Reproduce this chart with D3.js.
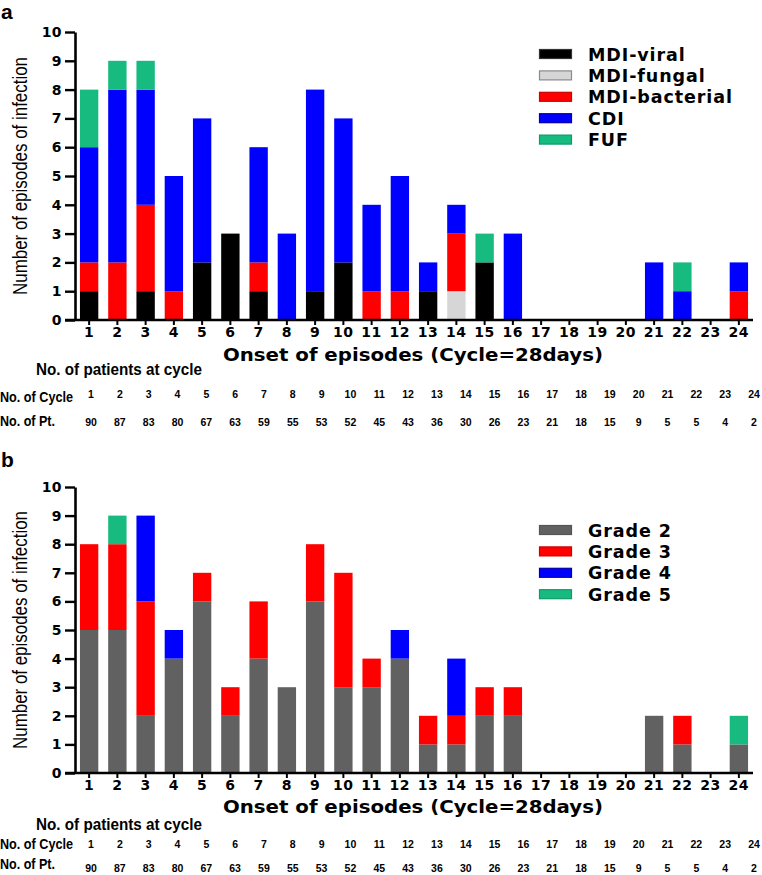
<!DOCTYPE html>
<html>
<head>
<meta charset="utf-8">
<script src="https://cdn.jsdelivr.net/npm/d3@7"></script>
<style>
  html, body { margin: 0; padding: 0; background: #fff; }
  svg { display: block; }
</style>
</head>
<body>
<svg id="chart" width="762" height="875"></svg>
<script>
// ---------- DATA ----------
const categories = ["1","2","3","4","5","6","7","8","9","10","11","12","13","14","15","16","17","18","19","20","21","22","23","24"];
const yTicks = [0,1,2,3,4,5,6,7,8,9,10];

// Panel a: by infection type
const mdiViral     = [1,0,1,0,2,3,1,0,1,2,0,0,1,0,2,0,0,0,0,0,0,0,0,0];
const mdiFungal    = [0,0,0,0,0,0,0,0,0,0,0,0,0,1,0,0,0,0,0,0,0,0,0,0];
const mdiBacterial = [1,2,3,1,0,0,1,0,0,0,1,1,0,2,0,0,0,0,0,0,0,0,0,1];
const cdi          = [4,6,4,4,5,0,4,3,7,5,3,4,1,1,0,3,0,0,0,0,2,1,0,1];
const fuf          = [2,1,1,0,0,0,0,0,0,0,0,0,0,0,1,0,0,0,0,0,0,1,0,0];
const seriesA = ["MDI-viral","MDI-fungal","MDI-bacterial","CDI","FUF"];

// Panel b: by grade
const grade2 = [5,5,2,4,6,2,4,3,6,3,3,4,1,1,2,2,0,0,0,0,2,1,0,1];
const grade3 = [3,3,4,0,1,1,2,0,2,4,1,0,1,1,1,1,0,0,0,0,0,1,0,0];
const grade4 = [0,0,3,1,0,0,0,0,0,0,0,1,0,2,0,0,0,0,0,0,0,0,0,0];
const grade5 = [0,1,0,0,0,0,0,0,0,0,0,0,0,0,0,0,0,0,0,0,0,0,0,1];
const seriesB = ["Grade 2","Grade 3","Grade 4","Grade 5"];

// Patients at each cycle
const patients = [90,87,83,80,67,63,59,55,53,52,45,43,36,30,26,23,21,18,15,9,5,5,4,2];

// ---------- STYLE ----------
const colorsA = ["#000000","#d6d6d6","#ff0000","#0000ff","#17bb80"];
const strokesA = ["#333333","#8a8a8a","#cc0000","#0000aa","#0f9a68"];
const colorsB = ["#616161","#ff0000","#0000ff","#17bb80"];
const strokesB = ["#555555","#cc0000","#0000aa","#0f9a68"];

const svg = d3.select("#chart");
const wideFont = "'DejaVu Sans', sans-serif";
const narrowFont = "'Liberation Sans Narrow', 'Liberation Sans', Arial, sans-serif";

function panel(opts) {
  const { letter, letterY, yTop, yBottom, series, values, colors, strokes, legendY, tableY } = opts;
  const g = svg.append("g");

  const x = d3.scaleBand().domain(categories).range([75, 753]).paddingInner(0.35).paddingOuter(0.175);
  const y = d3.scaleLinear().domain([0, 10]).range([yBottom, yTop]);

  // build stacked data
  const rows = categories.map((c, i) => {
    const r = { cat: c };
    series.forEach((s, k) => r[s] = values[k][i]);
    return r;
  });
  const stack = d3.stack().keys(series)(rows);

  g.selectAll("g.layer").data(stack).join("g")
    .attr("class", "layer")
    .attr("fill", (d, k) => colors[k])
    .selectAll("rect").data(d => d.filter(v => v[1] - v[0] > 0)).join("rect")
    .attr("x", d => x(d.data.cat))
    .attr("width", x.bandwidth())
    .attr("y", d => y(d[1]))
    .attr("height", d => y(d[0]) - y(d[1]));

  // y axis
  const yAxis = g.append("g").attr("transform", "translate(75,0)")
    .call(d3.axisLeft(y).tickValues(yTicks).tickFormat(d3.format("d")).tickSize(10).tickSizeOuter(0).tickPadding(3));
  yAxis.select(".domain").attr("stroke", "#000").attr("stroke-width", 2.6);
  yAxis.selectAll(".tick line").attr("stroke", "#000").attr("stroke-width", 2.4);
  yAxis.selectAll(".tick text")
    .attr("font-family", wideFont).attr("font-weight", "bold").attr("font-size", 14)
    .attr("letter-spacing", 0.4).attr("fill", "#000");

  // x axis
  const xAxis = g.append("g").attr("transform", `translate(0,${yBottom})`)
    .call(d3.axisBottom(x).tickSize(5).tickSizeOuter(0).tickPadding(3));
  xAxis.select(".domain").attr("stroke", "#000").attr("stroke-width", 2.6)
    .attr("d", `M65,0H753`);
  xAxis.selectAll(".tick line").attr("stroke", "#000").attr("stroke-width", 2);
  xAxis.selectAll(".tick text")
    .attr("font-family", wideFont).attr("font-weight", "bold").attr("font-size", 14)
    .attr("letter-spacing", 0.6).attr("fill", "#000").attr("dy", "0.65em");

  // panel letter
  g.append("text").attr("x", 1).attr("y", letterY)
    .attr("font-family", "'Liberation Sans', Arial, sans-serif").attr("font-weight", "bold")
    .attr("font-size", 21).text(letter);

  // y axis title
  const yc = (yTop + yBottom) / 2;
  g.append("text")
    .attr("transform", `translate(27,${yc}) rotate(-90)`)
    .attr("text-anchor", "middle")
    .attr("font-family", narrowFont).attr("font-size", 20)
    .attr("textLength", 238).attr("lengthAdjust", "spacingAndGlyphs")
    .text("Number of episodes of infection");

  // x axis title
  g.append("text")
    .attr("x", 223).attr("y", yBottom + tableY.title)
    .attr("font-family", wideFont).attr("font-weight", "bold").attr("font-size", 18)
    .attr("textLength", 380).attr("lengthAdjust", "spacingAndGlyphs")
    .text("Onset of episodes (Cycle=28days)");

  // legend
  const leg = g.append("g");
  series.forEach((s, k) => {
    const cy = legendY + k * 21.4;
    leg.append("rect").attr("x", 539.5).attr("y", cy - 4.5).attr("width", 32).attr("height", 9)
      .attr("fill", colors[k]).attr("stroke", strokes[k]).attr("stroke-width", 1.2);
    leg.append("text").attr("x", 588).attr("y", cy + 6.5)
      .attr("font-family", wideFont).attr("font-weight", "bold").attr("font-size", 17.5)
      .attr("letter-spacing", 0.9).text(s);
  });

  // table
  const tx = d3.scalePoint().domain(categories).range([91, 754]);
  g.append("text").attr("x", 36).attr("y", yBottom + tableY.head)
    .attr("font-family", narrowFont).attr("font-weight", "bold").attr("font-size", 17)
    .attr("textLength", 166).attr("lengthAdjust", "spacingAndGlyphs")
    .text("No. of patients at cycle");
  g.append("text").attr("x", 0).attr("y", yBottom + tableY.cycle)
    .attr("font-family", narrowFont).attr("font-weight", "bold").attr("font-size", 14)
    .attr("textLength", 73).attr("lengthAdjust", "spacingAndGlyphs")
    .text("No. of Cycle");
  g.append("text").attr("x", 0).attr("y", yBottom + tableY.pt)
    .attr("font-family", narrowFont).attr("font-weight", "bold").attr("font-size", 14)
    .attr("textLength", 55).attr("lengthAdjust", "spacingAndGlyphs")
    .text("No. of Pt.");
  g.append("g").selectAll("text").data(categories).join("text")
    .attr("x", d => tx(d)).attr("y", yBottom + tableY.cycleNum)
    .attr("text-anchor", "middle")
    .attr("font-family", narrowFont).attr("font-weight", "bold").attr("font-size", 10.5)
    .text(d => d);
  g.append("g").selectAll("text").data(patients).join("text")
    .attr("x", (d, i) => tx(categories[i])).attr("y", yBottom + tableY.ptNum)
    .attr("text-anchor", "middle")
    .attr("font-family", narrowFont).attr("font-weight", "bold").attr("font-size", 10.5)
    .text(d => d);
}

panel({
  letter: "a", letterY: 19, yTop: 32, yBottom: 320,
  series: seriesA, values: [mdiViral, mdiFungal, mdiBacterial, cdi, fuf],
  colors: colorsA, strokes: strokesA, legendY: 54,
  tableY: { title: 41, head: 55, cycle: 82, pt: 106, cycleNum: 78, ptNum: 106 }
});

panel({
  letter: "b", letterY: 467, yTop: 487, yBottom: 773,
  series: seriesB, values: [grade2, grade3, grade4, grade5],
  colors: colorsB, strokes: strokesB, legendY: 530,
  tableY: { title: 40, head: 57, cycle: 76, pt: 96, cycleNum: 75, ptNum: 99 }
});
</script>
</body>
</html>
